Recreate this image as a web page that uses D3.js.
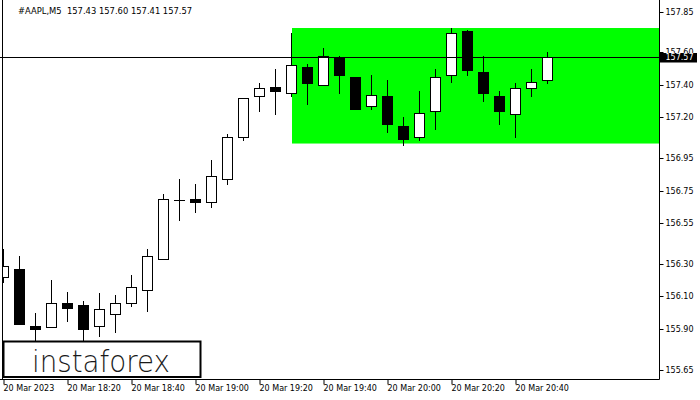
<!DOCTYPE html>
<html><head><meta charset="utf-8">
<script src="https://cdn.jsdelivr.net/npm/d3@7/dist/d3.min.js"></script>
<style>body{margin:0;background:#fff;} svg{display:block}</style>
</head><body>
<svg id="c" width="700" height="400"></svg>
<script>
// ---- data ----
const symbol = "#AAPL,M5";
const times = ["18:00","18:05","18:10","18:15","18:20","18:25","18:30","18:35","18:40","18:45",
  "18:50","18:55","19:00","19:05","19:10","19:15","19:20","19:25","19:30","19:35",
  "19:40","19:45","19:50","19:55","20:00","20:05","20:10","20:15","20:20","20:25",
  "20:30","20:35","20:40","20:45","20:50"];
const opens  = [156.22,156.27,155.92,155.91,156.06,156.05,155.92,155.99,156.06,156.14,
  156.33,156.69,156.70,156.68,156.82,157.08,157.33,157.39,157.35,157.51,
  157.40,157.57,157.45,157.27,157.33,157.15,157.08,157.24,157.46,157.73,
  157.48,157.33,157.22,157.38,157.43];
const highs  = [156.39,156.35,156.00,156.20,156.13,156.07,156.12,156.11,156.23,156.39,
  156.73,156.82,156.79,156.94,157.10,157.32,157.41,157.50,157.72,157.53,
  157.63,157.58,157.45,157.46,157.43,157.20,157.36,157.50,157.75,157.74,
  157.58,157.36,157.41,157.50,157.60];
const lows   = [156.19,155.93,155.80,155.91,155.95,155.82,155.86,155.88,156.04,156.01,
  156.33,156.57,156.62,156.65,156.79,157.06,157.24,157.22,157.33,157.28,
  157.40,157.35,157.25,157.25,157.11,157.03,157.06,157.13,157.42,157.46,
  157.30,157.16,157.08,157.33,157.41];
const closes = [156.29,155.93,155.90,156.06,156.03,155.90,156.02,156.06,156.16,156.35,
  156.70,156.69,156.68,156.84,157.08,157.32,157.38,157.36,157.52,157.41,
  157.58,157.46,157.25,157.34,157.16,157.07,157.23,157.45,157.72,157.49,
  157.35,157.24,157.38,157.42,157.57];
const priceTicks = [157.85,157.60,157.40,157.20,156.95,156.75,156.55,156.30,156.10,155.90,155.65];
const timeTickIdx = [0,4,8,12,16,20,24,28,32];
const timeTickLabels = ["20 Mar 2023","20 Mar 18:20","20 Mar 18:40","20 Mar 19:00","20 Mar 19:20",
  "20 Mar 19:40","20 Mar 20:00","20 Mar 20:20","20 Mar 20:40"];
const rangeStartIdx = 18;
const rangeTop = 157.75, rangeBottom = 157.04;
const lastPrice = 157.57;

// ---- layout ----
const svg = d3.select("#c");
const plotRight = 659.5, plotBottom = 379.5, plotLeft = 2.5;
const x = d3.scaleLinear().domain([0, 1]).range([3.5, 19.5]);
const y = d3.scaleLinear().domain([157.57, 155.65]).range([57.3, 57.3 + 1.92 * 162.7]);
const px = v => Math.round(v) + 0.5;
const font = "'DejaVu Sans', Verdana, sans-serif";

svg.append("rect").attr("width", 700).attr("height", 400).attr("fill", "#fff");

const defs = svg.append("defs");
defs.append("clipPath").attr("id", "plot").append("rect")
  .attr("x", plotLeft).attr("y", 0).attr("width", plotRight - plotLeft).attr("height", plotBottom);

const plot = svg.append("g").attr("clip-path", "url(#plot)");

// green range rectangle
plot.append("rect")
  .attr("x", Math.round(x(rangeStartIdx)))
  .attr("y", y(rangeTop))
  .attr("width", plotRight - Math.round(x(rangeStartIdx)))
  .attr("height", y(rangeBottom) - y(rangeTop))
  .attr("fill", "#00ff00");

const candles = times.map((t, i) => ({i, t, o: opens[i], h: highs[i], l: lows[i], c: closes[i]}));

const cg = plot.append("g");
// wicks
cg.selectAll("line.wick").data(candles).join("line")
  .attr("class", "wick")
  .attr("x1", d => x(d.i)).attr("x2", d => x(d.i))
  .attr("y1", d => Math.round(y(d.h))).attr("y2", d => Math.round(y(d.l)) + 1)
  .attr("stroke", "#000").attr("stroke-width", 1);
// bodies
candles.forEach(d => {
  const top = px(y(Math.max(d.o, d.c)));
  const bot = px(y(Math.min(d.o, d.c)));
  const bull = d.c >= d.o;
  if (bot - top < 1) {
    cg.append("line").attr("x1", x(d.i) - 5.5).attr("x2", x(d.i) + 5.5)
      .attr("y1", top).attr("y2", top).attr("stroke", "#000").attr("stroke-width", 1);
  } else {
    cg.append("rect").attr("x", x(d.i) - 5).attr("width", 10)
      .attr("y", top).attr("height", bot - top)
      .attr("fill", bull ? "#fff" : "#000").attr("stroke", "#000").attr("stroke-width", 1);
  }
});

// price line
svg.append("line").attr("x1", 0).attr("x2", plotRight)
  .attr("y1", px(y(lastPrice))).attr("y2", px(y(lastPrice)))
  .attr("stroke", "#000").attr("stroke-width", 1);

// frame lines
svg.append("line").attr("x1", plotLeft).attr("x2", plotLeft).attr("y1", 0).attr("y2", plotBottom)
  .attr("stroke", "#000");
svg.append("line").attr("x1", plotRight).attr("x2", plotRight).attr("y1", 0).attr("y2", plotBottom)
  .attr("stroke", "#000");
svg.append("line").attr("x1", 0).attr("x2", plotRight).attr("y1", plotBottom).attr("y2", plotBottom)
  .attr("stroke", "#000");

// logo box
svg.append("rect").attr("x", 3.5).attr("y", 341.5).attr("width", 197).attr("height", 35.5)
  .attr("fill", "#fff").attr("stroke", "#000").attr("stroke-width", 2);
svg.append("text").attr("x", 32).attr("y", 371.5)
  .attr("font-family", font).attr("font-weight", 300).attr("font-size", 30)
  .attr("textLength", 138).attr("lengthAdjust", "spacingAndGlyphs")
  .attr("fill", "#1a1a1a").text("instaforex");

// right axis
const ra = d3.axisRight(y).tickValues(priceTicks).tickFormat(d3.format(".2f")).tickSize(4).tickPadding(2);
const rg = svg.append("g").attr("transform", `translate(${plotRight},0)`).call(ra);
rg.select(".domain").remove();
rg.selectAll(".tick line").attr("stroke", "#000");
rg.selectAll(".tick text").attr("font-family", font).attr("font-size", 8).attr("fill", "#000");
rg.selectAll(".tick").attr("transform", d => `translate(0,${px(y(d))})`);

// price label
svg.append("rect").attr("x", 660).attr("y", 53).attr("width", 37).attr("height", 9.5).attr("fill", "#000");
svg.append("text").attr("x", 665.5).attr("y", px(y(lastPrice))).attr("dy", "0.33em")
  .attr("font-family", font).attr("font-size", 8).attr("fill", "#fff").text(lastPrice.toFixed(2));

// bottom axis
const ba = d3.axisBottom(x).tickValues(timeTickIdx)
  .tickFormat((d, k) => timeTickLabels[k]).tickSize(5).tickPadding(1);
const bg = svg.append("g").attr("transform", `translate(0,${plotBottom})`).call(ba);
bg.select(".domain").remove();
bg.selectAll(".tick line").attr("stroke", "#000");
bg.selectAll(".tick text").attr("font-family", font).attr("font-size", 8).attr("fill", "#000")
  .attr("text-anchor", "start").attr("x", -0.5);

// title
svg.append("text").attr("x", 18).attr("y", 14)
  .attr("font-family", font).attr("font-size", 8.4).attr("fill", "#000")
  .attr("xml:space", "preserve")
  .text(`${symbol}  ${opens[34].toFixed(2)} ${highs[34].toFixed(2)} ${lows[34].toFixed(2)} ${closes[34].toFixed(2)}`);
</script>
</body></html>
